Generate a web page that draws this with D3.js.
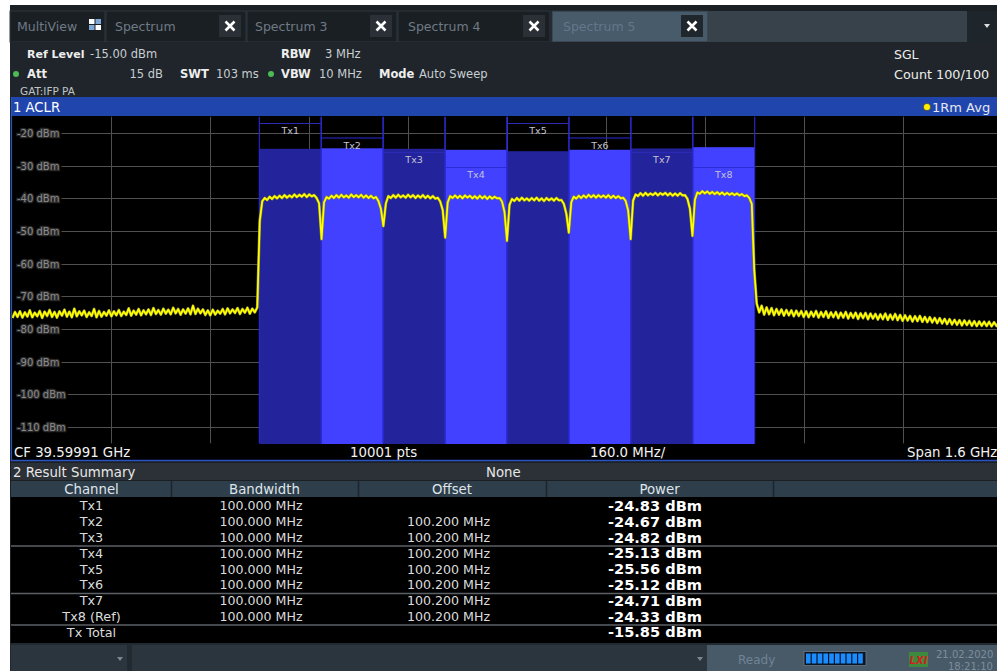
<!DOCTYPE html>
<html><head><meta charset="utf-8">
<script src="https://cdn.jsdelivr.net/npm/d3@7"></script>
<style>
html,body{margin:0;padding:0;background:#fff;overflow:hidden}
svg{display:block;font-family:"DejaVu Sans",sans-serif}
</style></head><body>
<svg id="c" width="997" height="671"></svg>
<script>
// ---------------- DATA ----------------
const tabs = ["MultiView", "Spectrum", "Spectrum 3", "Spectrum 4", "Spectrum 5"];
const channelNames = ["Tx1", "Tx2", "Tx3", "Tx4", "Tx5", "Tx6", "Tx7", "Tx8"];
const channelPowerDbm = [-24.83, -24.67, -24.82, -25.13, -25.56, -25.12, -24.71, -24.33];
const channelCenterMHz = [449.3, 549.5, 649.7, 749.9, 850.1, 950.3, 1050.5, 1150.7]; // offset from start freq
const channelBandwidthMHz = 100;
const spanMHz = 1600;
const refLevelDbm = -15;
const rangeDb = 100;
const yTicks = [-20, -30, -40, -50, -60, -70, -80, -90, -100, -110];
const xTicksMHz = [160, 320, 480, 640, 800, 960, 1120, 1280, 1440, 1600];
const traceStepMHz = 4;
const noiseLeftDbm = [
-76.6,-74.8,-76.3,-74.6,-76.5,-74.9,-76.2,-74.3,-76.4,-75.0,
-76.1,-74.5,-76.6,-74.7,-76.0,-74.2,-76.3,-74.8,-76.5,-74.6,
-75.9,-74.1,-76.2,-74.7,-76.4,-73.8,-76.1,-74.6,-75.8,-74.4,
-76.3,-74.9,-76.0,-73.9,-76.4,-74.5,-76.2,-74.8,-75.9,-74.3,
-76.1,-74.6,-75.8,-74.2,-76.0,-74.7,-75.7,-73.7,-75.9,-74.4,
-75.6,-73.9,-75.8,-74.3,-75.5,-74.0,-75.7,-73.6,-75.4,-74.2,
-75.6,-73.8,-75.3,-74.1,-75.5,-73.5,-75.2,-73.9,-75.6,-74.0,
-75.3,-73.7,-75.5,-72.9,-75.4,-73.8,-75.2,-74.0,-75.7,-74.3,
-75.8,-74.1,-75.6,-74.4,-75.3,-73.9,-75.5,-73.7,-75.2,-74.0,
-75.1,-73.6,-75.4,-73.9,-75.0,-73.5,-75.3,-73.8,-74.9,-73.4];
const channelTraceDbm = [
// Tx1
-47.0,-40.9,-39.9,-40.5,-39.5,-40.2,-39.3,-40.0,-39.2,-39.9,-39.0,-39.8,-39.1,-39.7,-38.8,-39.6,-38.9,-39.5,-38.7,-39.6,-38.8,-39.4,-39.0,-39.9,-41.5,
-52.5,
// Tx2
-41.2,-39.6,-40.1,-39.2,-39.9,-39.0,-39.8,-38.9,-39.7,-39.1,-39.8,-38.8,-39.6,-39.0,-39.7,-38.9,-39.8,-39.1,-39.9,-39.2,-40.0,-39.6,-40.8,-43.2,
-48.5,
// Tx3
-41.6,-39.3,-39.9,-39.0,-39.8,-38.9,-39.7,-39.1,-39.8,-38.9,-39.7,-39.0,-39.9,-39.1,-39.8,-39.0,-39.9,-39.2,-40.0,-39.3,-40.1,-39.8,-41.0,-43.6,
-52.0,
// Tx4
-41.3,-39.3,-39.9,-39.1,-39.9,-39.2,-40.0,-39.1,-39.8,-39.2,-40.0,-39.3,-40.1,-39.2,-40.0,-39.3,-40.2,-39.4,-40.1,-39.5,-40.0,-39.9,-41.0,-44.2,
-53.0,
// Tx5
-42.0,-40.2,-40.8,-39.9,-40.7,-39.8,-40.6,-40.0,-40.7,-39.9,-40.6,-39.8,-40.7,-40.0,-40.8,-39.9,-40.6,-40.0,-40.7,-39.9,-40.6,-40.5,-41.7,-44.7,
-50.5,
// Tx6
-41.2,-39.5,-40.1,-39.2,-39.9,-39.1,-39.8,-38.9,-39.7,-39.0,-39.8,-39.0,-39.7,-39.1,-39.8,-39.0,-39.9,-39.2,-39.9,-39.3,-40.0,-39.8,-40.8,-43.7,
-52.5,
// Tx7
-40.7,-38.8,-39.3,-38.4,-39.2,-38.3,-39.1,-38.5,-39.0,-38.3,-39.1,-38.4,-38.9,-38.3,-39.1,-38.4,-39.2,-38.5,-39.2,-38.4,-39.1,-39.0,-40.2,-43.2,
-51.5,
// Tx8
-40.4,-38.2,-38.6,-37.8,-38.5,-37.9,-38.6,-38.0,-38.7,-38.1,-38.8,-38.2,-38.9,-38.3,-38.9,-38.4,-39.0,-38.5,-39.1,-38.7,-39.3,-39.1,-39.9,-41.7,
-62.0];
const noiseRightDbm = [
-72.2,-74.9,-72.9,-75.6,-73.4,-75.5,-73.6,-75.8,-73.9,-75.6,
-74.0,-75.9,-74.2,-75.8,-74.3,-76.1,-74.4,-76.0,-74.5,-76.3,
-74.6,-76.4,-74.7,-76.2,-74.5,-76.5,-74.8,-76.3,-74.6,-76.6,
-74.9,-76.4,-74.8,-76.7,-75.0,-76.5,-74.8,-76.8,-75.1,-76.6,
-75.0,-76.9,-75.2,-76.7,-75.1,-77.0,-75.3,-76.8,-75.4,-77.1,
-75.5,-77.0,-75.3,-77.2,-75.6,-77.1,-75.4,-77.3,-75.7,-77.5,
-75.8,-77.4,-76.0,-77.7,-76.1,-77.6,-76.0,-77.8,-76.3,-77.9,
-76.4,-78.0,-76.6,-78.2,-76.7,-78.3,-76.9,-78.5,-77.0,-78.6,
-77.2,-78.7,-77.3,-78.9,-77.4,-78.8,-77.5,-79.0,-77.6,-79.1,
-77.7,-79.0,-77.8,-79.1,-77.8,-79.2,-77.9,-79.1,-77.9,-79.2];
const tableHeaders = ["Channel", "Bandwidth", "Offset", "Power", ""];
const tableChannel = ["Tx1","Tx2","Tx3","Tx4","Tx5","Tx6","Tx7","Tx8 (Ref)","Tx Total"];
const tableBandwidth = ["100.000 MHz","100.000 MHz","100.000 MHz","100.000 MHz","100.000 MHz","100.000 MHz","100.000 MHz","100.000 MHz",""];
const tableOffset = ["","100.200 MHz","100.200 MHz","100.200 MHz","100.200 MHz","100.200 MHz","100.200 MHz","100.200 MHz",""];
const tablePower = ["-24.83 dBm","-24.67 dBm","-24.82 dBm","-25.13 dBm","-25.56 dBm","-25.12 dBm","-24.71 dBm","-24.33 dBm","-15.85 dBm"];

// ---------------- DRAW ----------------
const W = 997, H = 671;
const svg = d3.select("#c");
const R = (g, x, y, w, h, f) => g.append("rect").attr("x", x).attr("y", y).attr("width", w).attr("height", h).attr("fill", f);
const T = (g, x, y, s, o = {}) => {
  const t = g.append("text").attr("x", x).attr("y", y).text(s)
    .attr("font-size", o.size || 12).attr("fill", o.fill || "#e6e6e6")
    .attr("font-weight", o.bold ? "bold" : "normal")
    .attr("text-anchor", o.anchor || "start");
  if (o.family) t.attr("font-family", o.family);
  return t;
};

R(svg, 0, 0, W, H, "#ffffff");
R(svg, 10, 5, W - 10, H - 5, "#1b2025");

// ---- Tab bar ----
const tabBar = svg.append("g");
R(tabBar, 10, 11, W - 10, 31, "#1c2126");
const tabX = [[10, 105], [106, 246], [247, 397], [398, 550], [552, 708]];
const tabTextX = [17, 115, 255, 408, 563];
tabs.forEach((name, i) => {
  const [a, b] = tabX[i];
  const active = i === tabs.length - 1;
  tabBar.append("rect").attr("x", a).attr("y", 11).attr("width", b - a).attr("height", 31)
    .attr("fill", active ? "#475b6b" : "#1a1f24").attr("stroke", "#2f373e").attr("stroke-width", 1);
  T(tabBar, tabTextX[i], 31, name, { size: 12.5, fill: active ? "#62778a" : "#6f7a84" });
  if (i > 0) {
    const bx = b - 27, by = 15;
    tabBar.append("rect").attr("x", bx).attr("y", by).attr("width", 22).attr("height", 22)
      .attr("fill", active ? "#1f262c" : "#2a3036");
    const cx = bx + 11, cy = by + 11;
    tabBar.append("path").attr("d", `M${cx - 4.5},${cy - 4.5}L${cx + 4.5},${cy + 4.5}M${cx + 4.5},${cy - 4.5}L${cx - 4.5},${cy + 4.5}`)
      .attr("stroke", "#fff").attr("stroke-width", 2.6);
  }
});
[[89, 19, "#ffffff"], [95.5, 19, "#7fa8d8"], [89, 25, "#7fa8d8"], [95.5, 25, "#ffffff"]].forEach(([x, y, c]) =>
  tabBar.append("rect").attr("x", x).attr("y", y).attr("width", 5.5).attr("height", 5).attr("fill", c));
R(tabBar, 708, 11, 259, 31, "#37424b");
R(tabBar, 967, 11, 30, 31, "#1e252b");
tabBar.append("path").attr("d", "M984,24L990,24L987,28Z").attr("fill", "#ddd");

// ---- Header info ----
const hdr = svg.append("g");
R(hdr, 10, 42, W - 10, 55, "#1f252a");
const hv = { size: 11.5, fill: "#c9ced3" }, hk = { size: 11.5, bold: true, fill: "#eeeeee" };
T(hdr, 27, 58, "Ref Level", { ...hk, size: 11 }); T(hdr, 90, 58, "-15.00 dBm", hv);
T(hdr, 281, 58, "RBW", hk); T(hdr, 325, 58, "3 MHz", hv);
T(hdr, 894, 59, "SGL", { size: 12.5, fill: "#eeeeee" });
hdr.append("circle").attr("cx", 16).attr("cy", 74).attr("r", 3).attr("fill", "#4cbb55");
T(hdr, 27, 78, "Att", hk); T(hdr, 163, 78, "15 dB", { ...hv, anchor: "end" });
T(hdr, 180, 78, "SWT", hk); T(hdr, 216, 78, "103 ms", hv);
hdr.append("circle").attr("cx", 271).attr("cy", 74).attr("r", 3).attr("fill", "#4cbb55");
T(hdr, 281, 78, "VBW", hk); T(hdr, 319, 78, "10 MHz", hv);
T(hdr, 379, 78, "Mode", hk); T(hdr, 419, 78, "Auto Sweep", hv);
T(hdr, 894, 79, "Count 100/100", { size: 12.8, fill: "#eeeeee" });
T(hdr, 20, 95, "GAT:IFP PA", { size: 10.5, fill: "#c0c4c8" });

// ---- Window 1 title ----
const wt = svg.append("g");
R(wt, 11, 97, W - 11, 19, "#2046ae");
T(wt, 13, 112, "1 ACLR", { size: 13.2, fill: "#ffffff" });
wt.append("circle").attr("cx", 927).attr("cy", 107).attr("r", 3.6).attr("fill", "#ffee00").attr("stroke", "#333").attr("stroke-width", 0.6);
T(wt, 932, 112, "1Rm Avg", { size: 13, fill: "#e6e6f0" });

// ---- Plot ----
const PX0 = 12.5, PX1 = 1001.5, PY0 = 116.7, PY1 = 443.3;
const x = d3.scaleLinear().domain([0, spanMHz]).range([PX0, PX1]);
const y = d3.scaleLinear().domain([refLevelDbm - rangeDb, refLevelDbm]).range([PY1, PY0]);
R(svg, 12, 116, W - 12, 344, "#000000");
svg.append("defs").append("clipPath").attr("id", "pc").append("rect")
  .attr("x", 12).attr("y", 116).attr("width", W - 12).attr("height", PY1 - 116 + 0.7);
const plot = svg.append("g").attr("clip-path", "url(#pc)");

plot.selectAll(".vg").data(xTicksMHz).join("line")
  .attr("x1", d => Math.round(x(d)) + 0.5).attr("x2", d => Math.round(x(d)) + 0.5)
  .attr("y1", PY0).attr("y2", PY1).attr("stroke", "#505050").attr("stroke-width", 1);

const yl = svg.append("g");
yTicks.forEach(v => {
  const yy = Math.round(y(v)) + 0.5;
  const t = T(yl, 17, yy + 3.6, v + " dBm", { size: 10, fill: "#8a8a8a" })
    .attr("stroke", "#2a2a2a").attr("stroke-width", 2.5).attr("paint-order", "stroke");
  const w = t.node().getComputedTextLength();
  plot.insert("line", ":first-child").attr("x1", 17 + w + 2).attr("x2", W).attr("y1", yy).attr("y2", yy)
    .attr("stroke", "#505050").attr("stroke-width", 1);
});

const darkBlue = "#23239b", brightBlue = "#4141ff";
const chData = channelNames.map((n, i) => ({ n, i, p: channelPowerDbm[i], c: channelCenterMHz[i] }));
plot.selectAll(".bar").data(chData).join("rect")
  .attr("x", d => x(d.c - channelBandwidthMHz / 2))
  .attr("width", d => x(d.c + channelBandwidthMHz / 2) - x(d.c - channelBandwidthMHz / 2))
  .attr("y", d => y(d.p)).attr("height", d => PY1 - y(d.p) + 1)
  .attr("fill", d => d.i % 2 ? brightBlue : darkBlue);

const edges = [];
chData.forEach(d => { edges.push(d.c - channelBandwidthMHz / 2, d.c + channelBandwidthMHz / 2); });
plot.selectAll(".edge").data(edges).join("line")
  .attr("x1", d => x(d)).attr("x2", d => x(d)).attr("y1", PY0).attr("y2", PY1)
  .attr("stroke", "#2a2ad0").attr("stroke-width", 1.1);

const levelY = [123.5, 138, 152.5, 167.5];
chData.forEach(d => {
  const ly = levelY[d.i % 4];
  const xa = x(d.c - channelBandwidthMHz / 2), xb = x(d.c + channelBandwidthMHz / 2);
  plot.append("line").attr("x1", xa).attr("x2", xb).attr("y1", ly).attr("y2", ly)
    .attr("stroke", d.i % 2 ? "#2b2bd8" : "#2a2ab4").attr("stroke-width", 1.2);
  T(plot, (xa + xb) / 2, ly + 10.5, d.n, { size: 9.5, fill: "#c4c4d4", anchor: "middle" });
});

const traceDbm = [...noiseLeftDbm, ...channelTraceDbm, ...noiseRightDbm];
const line = d3.line().x((d, i) => x(i * traceStepMHz)).y(d => y(d));
plot.append("path").datum(traceDbm).attr("d", line).attr("fill", "none")
  .attr("stroke", "#8c8c28").attr("stroke-width", 2.8).attr("stroke-linejoin", "round");
plot.append("path").datum(traceDbm).attr("d", line).attr("fill", "none")
  .attr("stroke", "#ffff00").attr("stroke-width", 1.7).attr("stroke-linejoin", "round");
yl.raise();

const cf = svg.append("g");
T(cf, 14, 457, "CF 39.59991 GHz", { size: 13.3, fill: "#f2f2f2" });
T(cf, 350, 457, "10001 pts", { size: 13.3, fill: "#f2f2f2" });
T(cf, 590, 457, "160.0 MHz/", { size: 13.3, fill: "#f2f2f2" });
T(cf, 907, 457, "Span 1.6 GHz", { size: 13.3, fill: "#f2f2f2" });

svg.append("line").attr("x1", 11.5).attr("x2", 11.5).attr("y1", 97).attr("y2", 461).attr("stroke", "#2a52c0").attr("stroke-width", 1.2);
svg.append("line").attr("x1", 11).attr("x2", W).attr("y1", 460.5).attr("y2", 460.5).attr("stroke", "#2a52c0").attr("stroke-width", 1.5);

// ---- Result summary ----
const tb = svg.append("g");
R(tb, 11, 463, W - 11, 17, "#2b3137");
T(tb, 13, 477, "2 Result Summary", { size: 13.3, fill: "#e8e8e8" });
T(tb, 486, 477, "None", { size: 13.3, fill: "#e8e8e8" });
R(tb, 11, 481, W - 11, 16, "#2f3e4b");
const colEdges = [11, 171, 358, 546, 773, W];
const colCenter = [91.5, 264.5, 452, 659.5, 885];
colEdges.slice(1, -1).forEach(cx => tb.append("line").attr("x1", cx + 0.5).attr("x2", cx + 0.5).attr("y1", 481).attr("y2", 497).attr("stroke", "#1d252c").attr("stroke-width", 1.5));
tableHeaders.forEach((h, i) => T(tb, colCenter[i], 494, h, { size: 13.3, fill: "#dfe5ea", anchor: "middle" }));
R(tb, 11, 497, W - 11, 146, "#000000");
const rowY = d3.range(tableChannel.length).map(i => 505.7 + i * 15.8);
[546, 593.5, 625].forEach(yy => tb.append("line").attr("x1", 11).attr("x2", W).attr("y1", yy).attr("y2", yy).attr("stroke", "#5b6066").attr("stroke-width", 1.3));
tableChannel.forEach((c, i) => {
  T(tb, 91.5, rowY[i] + 4.6, c, { size: 12.8, fill: "#dcdcdc", anchor: "middle" });
  T(tb, 261, rowY[i] + 4.6, tableBandwidth[i], { size: 12.6, fill: "#dcdcdc", anchor: "middle" });
  T(tb, 448.5, rowY[i] + 4.6, tableOffset[i], { size: 12.6, fill: "#dcdcdc", anchor: "middle" });
  T(tb, 655, rowY[i] + 5.2, tablePower[i], { size: 14.6, fill: "#ffffff", bold: true, anchor: "middle" });
});

// ---- Status bar ----
const sb = svg.append("g");
R(sb, 10, 643, W - 10, 28, "#222a31");
R(sb, 11, 645, 116, 26, "#2b353e");
R(sb, 132, 645, 575, 26, "#2b353e");
sb.append("path").attr("d", "M117,657L123,657L120,661Z").attr("fill", "#7a8690");
sb.append("path").attr("d", "M697,657L703,657L700,661Z").attr("fill", "#7a8690");
R(sb, 707, 645, W - 707, 26, "#485968");
T(sb, 738, 664, "Ready", { size: 12, fill: "#6f8495" });
R(sb, 804, 651.5, 62, 14, "#0c1620").attr("stroke", "#6b7c8c").attr("stroke-width", 0.8);
d3.range(10).forEach(k => R(sb, 806 + k * 5.8, 653.5, 4.6, 10, "#1a8cff"));
R(sb, 909, 652, 19, 15, "#3d8a3e");
T(sb, 918.5, 664, "LXI", { size: 10, fill: "#d42020", bold: true, anchor: "middle" }).attr("font-style", "italic");
T(sb, 936, 658, "21.02.2020", { size: 10, fill: "#7e8e9b" });
T(sb, 948, 669.5, "18:21:10", { size: 10, fill: "#7e8e9b" });
</script>
</body></html>
